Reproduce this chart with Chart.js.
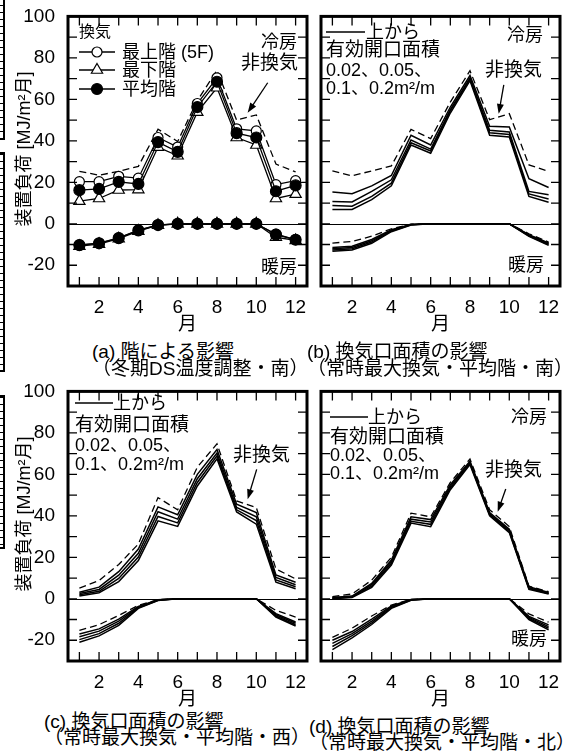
<!DOCTYPE html>
<html lang="ja">
<head>
<meta charset="UTF-8">
<title>装置負荷</title>
<script src="https://cdn.jsdelivr.net/npm/chart.js"></script>
<style>
  body { margin: 0; background: #fff; }
  #fig { position: relative; width: 579px; height: 751px; overflow: hidden;
         font-family: 'Liberation Sans', 'Noto Sans CJK JP', sans-serif; color: #000; }
  canvas { position: absolute; }
  .t { position: absolute; font-size: 19px; line-height: 20px; white-space: nowrap; }
  .m { font-size: 18px; }
  .s { font-size: 18px; }
  .k { font-size: 16px; }
  .cap { position: absolute; font-size: 19px; line-height: 18px; white-space: nowrap; }
  .ytitle { position: absolute; font-size: 18px; line-height: 20px; white-space: nowrap;
            transform: translate(-50%, -50%) rotate(-90deg); }
  .edge { position: absolute; left: 0; width: 3px; border-right: 2px solid #000;
          background: repeating-linear-gradient(to bottom, #000 0 1px, transparent 1px 7px); }
</style>
</head>
<body>
<div id="fig">
  <div class="edge" style="top:-2px;height:140px;border-bottom:2px solid #000"></div>
  <div class="edge" style="top:152px;height:216px;border-top:2px solid #000;border-bottom:2px solid #000"></div>
  <div class="edge" style="top:395px;height:150px;border-top:2px solid #000;border-bottom:2px solid #000"></div>

  <canvas id="chartA" width="320" height="336" style="left:0;top:0"></canvas>
  <canvas id="chartB" width="320" height="336" style="left:253px;top:0"></canvas>
  <canvas id="chartC" width="320" height="336" style="left:0;top:375px"></canvas>
  <canvas id="chartD" width="320" height="336" style="left:253px;top:375px"></canvas>

  <div class="ytitle" style="left:24px;top:149px">装置負荷 [MJ/m²月]</div>
  <div class="ytitle" style="left:24px;top:514px">装置負荷 [MJ/m²月]</div>

  <!-- (a) -->
  <div class="t k" style="left:79px;top:22px">換気</div>
  <div class="t m" style="left:122px;top:42px">最上階 (5F)</div>
  <div class="t m" style="left:122px;top:60px">最下階</div>
  <div class="t m" style="left:122px;top:79px">平均階</div>
  <div class="t m" style="right:282px;top:32px">冷房</div>
  <div class="t" style="right:281px;top:53px">非換気</div>
  <div class="t m" style="right:282px;top:257px">暖房</div>

  <!-- (b) -->
  <div class="t m" style="left:366px;top:22px">上から</div>
  <div class="t" style="left:326px;top:40px">有効開口面積</div>
  <div class="t s" style="left:326px;top:60px">0.02、0.05、</div>
  <div class="t s" style="left:326px;top:78px">0.1、0.2m²/m</div>
  <div class="t m" style="right:36px;top:25px">冷房</div>
  <div class="t" style="right:37px;top:60px">非換気</div>
  <div class="t m" style="right:35px;top:255px">暖房</div>

  <!-- (c) -->
  <div class="t m" style="left:113px;top:393px">上から</div>
  <div class="t" style="left:75px;top:415px">有効開口面積</div>
  <div class="t s" style="left:75px;top:435px">0.02、0.05、</div>
  <div class="t s" style="left:75px;top:454px">0.1、0.2m²/m</div>
  <div class="t" style="left:233px;top:445px">非換気</div>

  <!-- (d) -->
  <div class="t m" style="left:368px;top:407px">上から</div>
  <div class="t m" style="right:32px;top:407px">冷房</div>
  <div class="t" style="left:330px;top:427px">有効開口面積</div>
  <div class="t s" style="left:330px;top:445px">0.02、0.05、</div>
  <div class="t s" style="left:330px;top:463px">0.1、0.2m²/m</div>
  <div class="t" style="right:37px;top:460px">非換気</div>
  <div class="t m" style="right:32px;top:629px">暖房</div>

  <div class="cap" style="left:92px;top:343px">(a) 階による影響</div>
  <div class="cap" style="left:92px;top:360px">（冬期DS温度調整・南）</div>
  <div class="cap" style="left:307px;top:343px">(b) 換気口面積の影響</div>
  <div class="cap" style="left:307px;top:360px">（常時最大換気・平均階・南）</div>
  <div class="cap" style="left:44px;top:713px">(c) 換気口面積の影響</div>
  <div class="cap" style="left:44px;top:729px">（常時最大換気・平均階・西）</div>
  <div class="cap" style="left:309px;top:718px">(d) 換気口面積の影響</div>
  <div class="cap" style="left:309px;top:734px">（常時最大換気・平均階・北）</div>
</div>

<script>
  // 月と目盛り
  var months = [1, 2, 3, 4, 5, 6, 7, 8, 9, 10, 11, 12]
  var xTickLabels = [2, 4, 6, 8, 10, 12]
  var yTickLabels = [-20, 0, 20, 40, 60, 80, 100]
  var yMinorTicks = [-20, -10, 0, 10, 20, 30, 40, 50, 60, 70, 80, 90]

  // (a) 階による影響
  var aTopCool    = [20.3, 20.3, 22.9, 22.0, 41.6, 37.0, 58.0, 70.4, 45.8, 44.8, 18.9, 20.8]
  var aLowCool    = [10.9, 12.2, 16.3, 16.5, 37.0, 32.8, 53.8, 65.6, 41.6, 38.0, 12.2, 14.3]
  var aAvgCool    = [16.2, 16.8, 20.2, 19.2, 39.4, 34.7, 56.3, 68.5, 43.7, 41.6, 15.7, 18.5]
  var aNoVentCool = [25.3, 23.4, 25.3, 27.7, 45.6, 39.7, 59.4, 74.0, 50.0, 52.5, 28.8, 25.0]
  var aTopHeat    = [-10.2, -9.3, -6.8, -3.1, -0.5, 0, 0, 0, 0, 0, -5.0, -7.6]
  var aLowHeat    = [-10.8, -9.8, -7.2, -3.5, -0.7, 0, 0, 0, 0, 0, -6.5, -8.0]
  var aAvgHeat    = [-10.3, -9.4, -6.9, -3.2, -0.6, 0, 0, 0, 0, 0, -5.2, -7.7]

  // (b) 南
  var bNoVentCool = [25.5, 23.1, 25.5, 27.9, 45.5, 41.1, 58.7, 73.8, 50.2, 53.1, 28.4, 25.2]
  var b002Cool    = [15.3, 14.5, 18.3, 23.3, 42.7, 38.0, 56.3, 71.5, 47.0, 46.7, 21.7, 17.5]
  var b005Cool    = [10.8, 10.5, 15.6, 21.2, 40.4, 36.0, 55.0, 70.3, 45.1, 44.3, 15.6, 14.0]
  var b01Cool     = [8.8, 8.5, 13.2, 19.6, 39.1, 35.1, 54.4, 69.7, 43.9, 43.1, 14.4, 12.0]
  var b02Cool     = [6.9, 6.9, 11.6, 18.3, 38.0, 34.0, 53.4, 69.0, 42.7, 41.9, 13.2, 10.4]
  var bNoVentHeat = [-9.3, -8.5, -6.0, -2.4, -0.2, 0, 0, 0, 0, 0, -4.8, -8.8]
  var b002Heat    = [-11.4, -10.8, -7.6, -2.9, -0.3, 0, 0, 0, 0, 0, -5.2, -9.2]
  var b005Heat    = [-12.0, -11.4, -8.2, -3.2, -0.4, 0, 0, 0, 0, 0, -5.5, -9.6]
  var b01Heat     = [-12.6, -12.0, -8.8, -3.5, -0.5, 0, 0, 0, 0, 0, -5.8, -10.0]
  var b02Heat     = [-13.2, -12.6, -9.4, -3.8, -0.6, 0, 0, 0, 0, 0, -6.1, -10.4]

  // (c) 西
  var cNoVentCool = [5.1, 8.8, 16.5, 26.4, 48.8, 42.9, 63.5, 74.7, 47.2, 44.0, 14.4, 9.6]
  var c002Cool    = [3.2, 5.6, 13.1, 24.0, 44.3, 40.5, 60.0, 72.0, 45.6, 41.6, 11.5, 8.0]
  var c005Cool    = [2.5, 4.5, 11.4, 21.9, 42.0, 38.4, 57.9, 70.3, 44.0, 39.5, 10.3, 6.8]
  var c01Cool     = [1.9, 3.6, 9.8, 20.1, 39.7, 36.6, 56.1, 68.9, 42.9, 37.7, 9.1, 5.8]
  var c02Cool     = [1.3, 2.9, 8.3, 18.4, 37.6, 34.9, 54.4, 67.5, 41.9, 36.0, 8.0, 4.8]
  var cNoVentHeat = [-15.2, -12.5, -8.0, -3.2, -0.4, 0, 0, 0, 0, 0, -5.6, -8.8]
  var c002Heat    = [-17.0, -14.5, -9.8, -3.7, -0.5, 0, 0, 0, 0, 0, -7.2, -11.2]
  var c005Heat    = [-18.3, -15.6, -10.8, -4.0, -0.6, 0, 0, 0, 0, 0, -7.7, -11.8]
  var c01Heat     = [-19.7, -16.8, -11.8, -4.3, -0.7, 0, 0, 0, 0, 0, -8.3, -12.5]
  var c02Heat     = [-21.0, -17.9, -12.8, -4.6, -0.8, 0, 0, 0, 0, 0, -8.8, -13.1]

  // (d) 北
  var dNoVentCool = [1.0, 2.3, 9.0, 20.0, 41.3, 39.5, 56.1, 67.4, 42.9, 34.8, 6.1, 3.4]
  var d002Cool    = [0.6, 1.3, 7.4, 18.7, 39.5, 38.2, 55.0, 66.3, 41.6, 33.5, 5.8, 3.0]
  var d005Cool    = [0.4, 1.0, 6.8, 17.9, 38.4, 37.0, 54.2, 65.8, 41.0, 33.0, 5.3, 2.7]
  var d01Cool     = [0.2, 0.8, 6.1, 17.1, 37.4, 35.9, 53.4, 65.2, 40.5, 32.4, 4.9, 2.5]
  var d02Cool     = [0.0, 0.6, 5.5, 16.3, 36.5, 34.8, 52.6, 64.7, 40.0, 31.9, 4.5, 2.3]
  var dNoVentHeat = [-18.6, -14.2, -8.3, -3.0, -0.3, 0, 0, 0, 0, 0, -7.3, -11.3]
  var d002Heat    = [-20.0, -15.8, -9.8, -3.4, -0.4, 0, 0, 0, 0, 0, -8.5, -12.6]
  var d005Heat    = [-21.5, -16.8, -10.8, -3.8, -0.5, 0, 0, 0, 0, 0, -9.0, -13.4]
  var d01Heat     = [-23.0, -17.8, -11.6, -4.2, -0.6, 0, 0, 0, 0, 0, -9.5, -14.2]
  var d02Heat     = [-24.5, -18.8, -12.4, -4.6, -0.7, 0, 0, 0, 0, 0, -10.0, -15.0]

  Chart.defaults.font.family = "'Liberation Sans', 'Noto Sans CJK JP', sans-serif"
  Chart.defaults.color = '#000'

  function pts(vals) {
    return vals.map(function (v, i) { return { x: months[i], y: v } })
  }

  function solid(vals) {
    return { data: pts(vals), borderColor: '#000', borderWidth: 1.5, pointRadius: 0, tension: 0, order: 2 }
  }

  function dashed(vals) {
    return { data: pts(vals), borderColor: '#000', borderWidth: 1.3, borderDash: [7, 4], pointRadius: 0, tension: 0, order: 5 }
  }

  function marked(vals, style, fill, radius, order) {
    return {
      data: pts(vals), borderColor: '#000', borderWidth: 1.3, tension: 0, order: order,
      pointStyle: style, pointRadius: radius, pointBackgroundColor: fill,
      pointBorderColor: '#000', pointBorderWidth: 1.2
    }
  }

  // 枠・内向き目盛り・ゼロ線・矢印・凡例記号
  var framePlugin = {
    id: 'frame',
    beforeDatasetsDraw: function (chart) {
      var ctx = chart.ctx, a = chart.chartArea, y = chart.scales.y
      var y0 = Math.round(y.getPixelForValue(0)) + 0.5
      ctx.save()
      ctx.strokeStyle = '#000'
      ctx.lineWidth = 1
      ctx.beginPath()
      ctx.moveTo(a.left, y0)
      ctx.lineTo(a.right, y0)
      ctx.stroke()
      ctx.restore()
    },
    afterDatasetsDraw: function (chart, args, opts) {
      var ctx = chart.ctx, a = chart.chartArea, x = chart.scales.x, y = chart.scales.y
      ctx.save()
      ctx.strokeStyle = '#000'
      ctx.fillStyle = '#000'
      ctx.lineWidth = 1.3
      ctx.beginPath()
      months.forEach(function (m) {
        var px = x.getPixelForValue(m)
        ctx.moveTo(px, a.top); ctx.lineTo(px, a.top + 9)
        ctx.moveTo(px, a.bottom); ctx.lineTo(px, a.bottom - 9)
      })
      yMinorTicks.forEach(function (v) {
        var py = y.getPixelForValue(v)
        ctx.moveTo(a.left, py); ctx.lineTo(a.left + 9, py)
        ctx.moveTo(a.right, py); ctx.lineTo(a.right - 9, py)
      })
      ctx.stroke()
      ctx.lineWidth = 3
      ctx.strokeRect(a.left, a.top, a.right - a.left, a.bottom - a.top)

      if (opts.arrow) {
        var x1 = x.getPixelForValue(opts.arrow[0]), y1 = y.getPixelForValue(opts.arrow[1])
        var x2 = x.getPixelForValue(opts.arrow[2]), y2 = y.getPixelForValue(opts.arrow[3])
        var ang = Math.atan2(y2 - y1, x2 - x1)
        ctx.lineWidth = 1.3
        ctx.beginPath()
        ctx.moveTo(x1, y1)
        ctx.lineTo(x2 - 6 * Math.cos(ang), y2 - 6 * Math.sin(ang))
        ctx.stroke()
        ctx.beginPath()
        ctx.moveTo(x2, y2)
        ctx.lineTo(x2 - 10 * Math.cos(ang) + 3.5 * Math.sin(ang), y2 - 10 * Math.sin(ang) - 3.5 * Math.cos(ang))
        ctx.lineTo(x2 - 10 * Math.cos(ang) - 3.5 * Math.sin(ang), y2 - 10 * Math.sin(ang) + 3.5 * Math.cos(ang))
        ctx.closePath()
        ctx.fill()
      }

      (opts.samples || []).forEach(function (s) {
        ctx.lineWidth = 1.4
        ctx.strokeStyle = '#000'
        ctx.beginPath()
        ctx.moveTo(s.x0, s.y)
        ctx.lineTo(s.x1, s.y)
        ctx.stroke()
        if (s.style) {
          ctx.fillStyle = s.fill
          ctx.lineWidth = 1.2
          Chart.helpers.drawPoint(ctx, { pointStyle: s.style, radius: s.r, borderWidth: 1.2, rotation: 0 }, (s.x0 + s.x1) / 2, s.y)
        }
      })
      ctx.restore()
    }
  }

  function makeChart(id, padTop, showY, datasets, extra) {
    return new Chart(document.getElementById(id), {
      type: 'line',
      data: { datasets: datasets },
      options: {
        responsive: false,
        animation: false,
        devicePixelRatio: 1,
        layout: { padding: { top: padTop, right: 13, left: 0, bottom: 0 } },
        plugins: { legend: { display: false }, tooltip: { enabled: false }, frame: extra },
        scales: {
          x: {
            type: 'linear', min: 0.42, max: 12.58,
            grid: { display: false }, border: { display: false },
            afterBuildTicks: function (s) { s.ticks = xTickLabels.map(function (v) { return { value: v } }) },
            afterFit: function (s) { s.height = 50 },
            ticks: { font: { size: 19 }, padding: 2, maxRotation: 0, autoSkip: false },
            title: { display: true, text: '月', font: { size: 19 }, padding: 0 }
          },
          y: {
            type: 'linear', min: -30, max: 100,
            grid: { display: false }, border: { display: false },
            afterBuildTicks: function (s) { s.ticks = yTickLabels.map(function (v) { return { value: v } }) },
            afterFit: function (s) { s.width = 68 },
            ticks: {
              font: { size: 19 }, padding: 5, autoSkip: false,
              callback: function (v) { return showY ? String(v) : '' }
            }
          }
        }
      },
      plugins: [framePlugin]
    })
  }

  function areaSet(nv, s1, s2, s3, s4) {
    return [dashed(nv), solid(s1), solid(s2), solid(s3), solid(s4)]
  }

  makeChart('chartA', 13, true, [
    dashed(aNoVentCool),
    marked(aTopCool, 'circle', '#fff', 5, 3),
    marked(aLowCool, 'triangle', '#fff', 6.5, 2),
    marked(aAvgCool, 'circle', '#000', 5.5, 1),
    marked(aTopHeat, 'circle', '#fff', 5, 3),
    marked(aLowHeat, 'triangle', '#fff', 6.5, 2),
    marked(aAvgHeat, 'circle', '#000', 5.5, 1)
  ], {
    arrow: [10.58, 68, 9.56, 53.5],
    samples: [
      { x0: 79, x1: 115, y: 52, style: 'circle', fill: '#fff', r: 5 },
      { x0: 79, x1: 115, y: 70, style: 'triangle', fill: '#fff', r: 6.5 },
      { x0: 79, x1: 115, y: 89, style: 'circle', fill: '#000', r: 5.5 }
    ]
  })

  makeChart('chartB', 12, false,
    areaSet(bNoVentCool, b002Cool, b005Cool, b01Cool, b02Cool)
      .concat(areaSet(bNoVentHeat, b002Heat, b005Heat, b01Heat, b02Heat)),
    { arrow: [9.72, 67, 9.46, 53], samples: [{ x0: 73, x1: 112, y: 32 }] })

  makeChart('chartC', 13, true,
    areaSet(cNoVentCool, c002Cool, c005Cool, c01Cool, c02Cool)
      .concat(areaSet(cNoVentHeat, c002Heat, c005Heat, c01Heat, c02Heat)),
    { arrow: [10.02, 62.4, 9.56, 48], samples: [{ x0: 75, x1: 113, y: 28 }] })

  makeChart('chartD', 13, false,
    areaSet(dNoVentCool, d002Cool, d005Cool, d01Cool, d02Cool)
      .concat(areaSet(dNoVentHeat, d002Heat, d005Heat, d01Heat, d02Heat)),
    { arrow: [9.82, 52.9, 9.41, 42], samples: [{ x0: 77, x1: 115, y: 42 }] })
</script>
</body>
</html>
